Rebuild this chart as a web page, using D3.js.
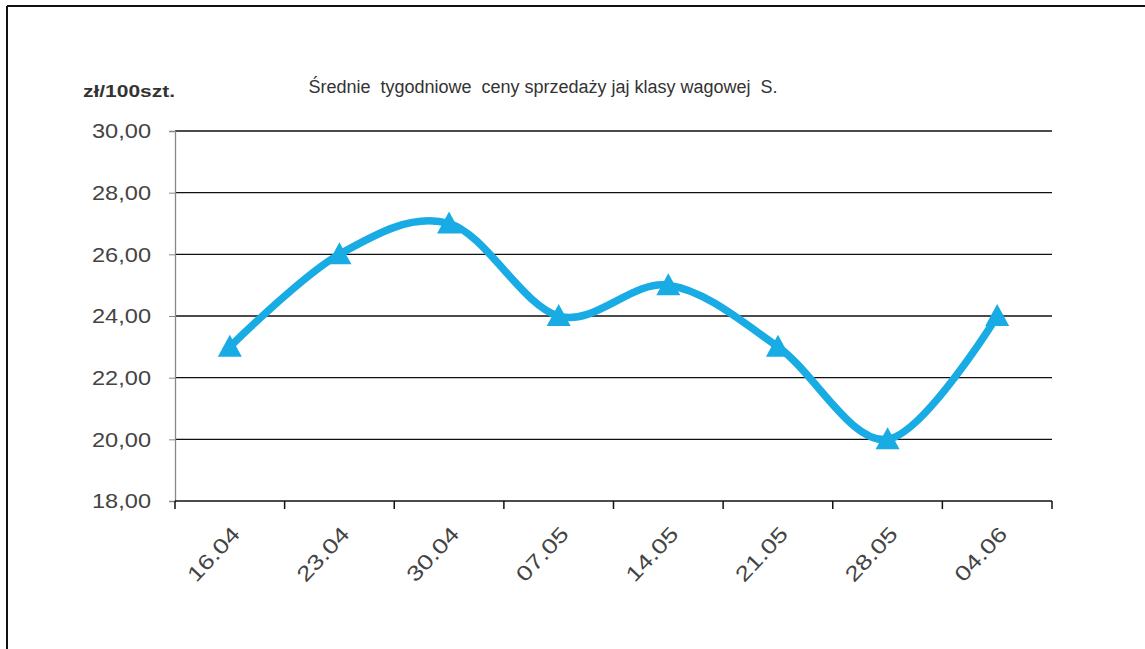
<!DOCTYPE html>
<html>
<head>
<meta charset="utf-8">
<script src="https://cdn.jsdelivr.net/npm/d3@7"></script>
<style>
  body { margin: 0; background: #fff; }
  text { font-family: "Liberation Sans", Arial, sans-serif; }
</style>
</head>
<body>
<svg id="chart"></svg>
<script>
// weekly dates and prices
var weeks = ["16.04", "23.04", "30.04", "07.05", "14.05", "21.05", "28.05", "04.06"];
var prices = [23, 26, 27, 24, 25, 23, 20, 24];
var yTicks = [18, 20, 22, 24, 26, 28, 30];

var W = 1145, H = 649;
var plotL = 175, plotR = 1052, plotT = 131, plotB = 501;

var svg = d3.select("#chart")
            .attr("width", W)
            .attr("height", H);

// frame (only top + left are drawn in the original)
svg.append("line").attr("x1", 7).attr("x2", W).attr("y1", 6).attr("y2", 6)
   .attr("stroke", "#111").attr("stroke-width", 2);
svg.append("line").attr("x1", 7).attr("x2", 7).attr("y1", 6).attr("y2", H)
   .attr("stroke", "#111").attr("stroke-width", 2);

var x = d3.scaleBand().domain(weeks).range([plotL, plotR]);
var y = d3.scaleLinear().domain([18, 30]).range([plotB, plotT]);

// title + unit
svg.append("text")
    .attr("x", 543).attr("y", 93)
    .attr("text-anchor", "middle")
    .style("white-space", "pre")
    .style("font-size", "18px")
    .style("fill", "#333")
    .text("Średnie  tygodniowe  ceny sprzedaży jaj klasy wagowej  S.");

svg.append("text")
    .attr("x", 83).attr("y", 97)
    .attr("textLength", 92)
    .attr("lengthAdjust", "spacingAndGlyphs")
    .style("font-size", "16px")
    .style("font-weight", "bold")
    .style("fill", "#333")
    .text("zł/100szt.");

// horizontal grid
svg.append("g")
    .selectAll("line")
    .data(yTicks.filter(function(d){ return d > 18; }))
    .enter()
    .append("line")
    .attr("x1", plotL).attr("x2", plotR)
    .attr("y1", function(d){ return y(d); })
    .attr("y2", function(d){ return y(d); })
    .attr("stroke", "#111")
    .attr("stroke-width", 1.3);

// y axis
var yAxis = svg.append("g")
    .attr("transform", "translate(" + plotL + ",0)")
    .call(d3.axisLeft(y).tickValues(yTicks).tickSize(6).tickPadding(18)
          .tickFormat(function(d){ return d3.format(".2f")(d).replace(".", ","); }));
yAxis.select(".domain").attr("stroke", "#888").attr("stroke-width", 1.3);
yAxis.selectAll(".tick line").attr("stroke", "#888");
yAxis.selectAll("text")
    .attr("textLength", 59)
    .attr("lengthAdjust", "spacingAndGlyphs")
    .style("font-family", "Liberation Sans, Arial, sans-serif")
    .style("font-size", "21px")
    .style("fill", "#444");

// x axis, ticks at band edges
var edges = weeks.map(function(d){ return x(d); }).concat([plotR]);
svg.append("line")
    .attr("x1", plotL).attr("x2", plotR)
    .attr("y1", plotB).attr("y2", plotB)
    .attr("stroke", "#111").attr("stroke-width", 1.5);
svg.append("g")
    .selectAll("line")
    .data(edges)
    .enter()
    .append("line")
    .attr("x1", function(d){ return d; })
    .attr("x2", function(d){ return d; })
    .attr("y1", plotB).attr("y2", plotB + 8)
    .attr("stroke", "#111").attr("stroke-width", 1.5);

svg.append("g")
    .selectAll("text")
    .data(weeks)
    .enter()
    .append("text")
    .attr("text-anchor", "end")
    .attr("transform", function(d){
        return "translate(" + (x(d) + x.bandwidth() / 2 + 6) + "," + (plotB + 29) + ") rotate(-47)";
    })
    .attr("dy", "0.35em")
    .attr("textLength", 66)
    .attr("lengthAdjust", "spacingAndGlyphs")
    .style("font-size", "21px")
    .style("fill", "#444")
    .text(function(d){ return d; });

// line
var pts = weeks.map(function(d, i){ return [x(d) + x.bandwidth() / 2, y(prices[i])]; });
svg.append("path")
    .attr("d", d3.line().curve(d3.curveCatmullRom.alpha(0))(pts))
    .attr("fill", "none")
    .attr("stroke", "#19ABE3")
    .attr("stroke-width", 7.5)
    .attr("stroke-linejoin", "round");

// triangle markers
svg.append("g")
    .selectAll("path")
    .data(pts)
    .enter()
    .append("path")
    .attr("d", "M0,-12 L12,10 L-12,10 Z")
    .attr("transform", function(d){ return "translate(" + d[0] + "," + d[1] + ")"; })
    .attr("fill", "#19ABE3");
</script>
</body>
</html>
